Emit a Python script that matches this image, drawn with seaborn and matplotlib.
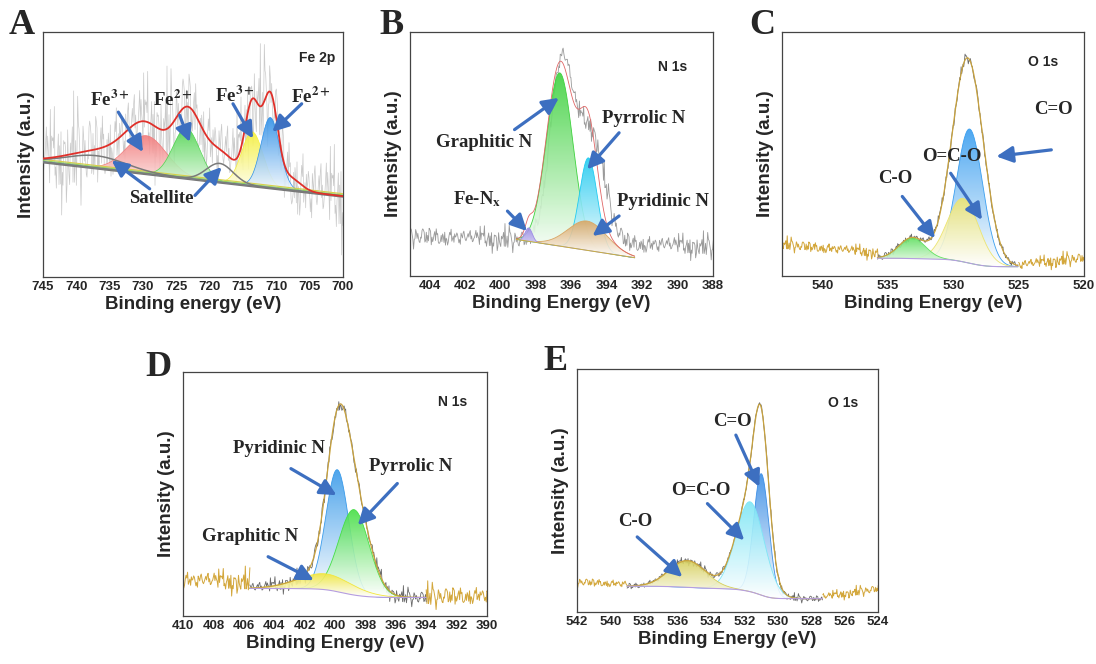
# XPS high-resolution spectra: Fe 2p, N 1s, O 1s
import numpy as np
import matplotlib
matplotlib.use("Agg")
import matplotlib.pyplot as plt
import seaborn as sns
from matplotlib.colors import to_rgb
from matplotlib.ticker import AutoMinorLocator

# hand-typed noise texture for the measured traces
jitter = [
    0.31, -0.72, 0.55, -0.18, 0.92, -0.44, 0.07, -0.95, 0.63, -0.27,
    0.41, -0.81, 0.12, 0.77, -0.59, 0.24, -0.36, 1.65, -0.13, 0.49,
    -0.67, 0.03, 0.71, -0.52, 0.19, -0.88, 0.38, -0.05, 0.84, -0.31,
    0.58, -0.76, 0.15, -1.72, 0.96, -0.21, 0.33, -0.64, 0.08, 0.69,
    -0.93, 0.27, -0.11, 0.53, -0.48, 0.81, -0.35, 0.02, -0.79, 0.46,
    0.17, -0.57, 1.48, -0.24, 0.36, -0.86, 0.61, -0.09, 0.29, -0.69,
    0.91, -0.38, 0.13, -0.53, 0.67, -0.16, 0.44, -0.97, 0.22, 0.79,
    -0.47, 0.05, -1.55, 0.57, -0.29, 0.86, -0.62, 0.34, -0.07, 0.51,
    -0.83, 0.18, 0.64, -0.41, 0.26, -0.91, 0.72, -0.23, 0.39, -0.61,
    0.09, 1.83, -0.55, 0.21, -0.33, 0.94, -0.15, 0.47, -0.78, 0.11,
    -0.26, 0.62, -0.84, 0.35, -0.02, 0.75, -0.46, 0.16, -0.68, 0.52,
    -1.38, 0.28, 0.87, -0.37, 0.06, -0.73, 0.43, -0.19, 0.66, -0.51,
    0.23, -0.89, 0.59, -0.12, 0.37, -0.65, 1.41, -0.28, 0.14, -0.82,
    0.48, -0.04, 0.73, -0.45, 0.25, -0.94, 0.56, -0.17, 0.32, -0.58,
]

# ---------------- A : Fe 2p ----------------
fe_lim = (745, 700)
fe_ticks = [745, 740, 735, 730, 725, 720, 715, 710, 705, 700]
fe_bg = [47.0, 33.0]
fe_pk_center = [729.5, 723.5, 713.6, 710.9]
fe_pk_height = [15.5, 20.4, 22.0, 28.7]
fe_pk_width = [3.0, 2.0, 1.6, 1.4]
fe_pk_color = ["#f27c7c", "#4fd44f", "#f5ef3a", "#2e8fe8"]
fe_sat_center = [737.0, 718.5]
fe_sat_height = [5.0, 7.6]
fe_sat_width = [4.5, 2.0]
fe_fit_center = [736.0, 729.5, 723.3, 718.5, 713.6, 710.9, 708.0]
fe_fit_height = [7.0, 18.0, 25.0, 12.0, 32.0, 36.5, 5.0]
fe_fit_width = [5.0, 3.0, 2.0, 2.5, 1.1, 1.1, 1.6]
fe_lab_text = ["Fe$^{\\mathbf{3+}}$", "Fe$^{\\mathbf{2+}}$", "Fe$^{\\mathbf{3+}}$",
               "Fe$^{\\mathbf{2+}}$", "Satellite"]
fe_lab_x = [735.0, 725.5, 716.3, 704.8, 727.3]
fe_lab_y = [72.5, 72.5, 74.0, 73.5, 32.0]
fe_arrows = [(733.7, 67.3, 730.0, 51.0), (724.5, 66.0, 723.0, 55.1),
             (716.5, 70.7, 713.5, 56.5), (706.2, 70.7, 710.6, 59.2),
             (729.0, 36.0, 734.7, 47.6), (722.2, 33.3, 718.2, 44.9)]

# ---------------- B : N 1s ----------------
nb_lim = (405.1, 388)
nb_ticks = [404, 402, 400, 398, 396, 394, 392, 390, 388]
nb_fit = (399.1, 392.4)
nb_bg = [15.0, 7.5]
nb_pk_center = [396.65, 395.03, 395.1, 398.4]
nb_pk_height = [71.0, 38.0, 12.0, 5.5]
nb_pk_width = [0.75, 0.5, 1.1, 0.2]
nb_pk_color = ["#3fd23f", "#22cbf0", "#d9a765", "#9d8ce6"]
nb_raw_level = [16.5, 12.0]
nb_raw_center = [396.55, 394.9]
nb_raw_height = [72.0, 45.0]
nb_raw_width = [0.65, 0.75]
nb_lab_text = ["Graphitic N", "Pyrrolic N", "Pyridinic N", "Fe-N$_\\mathbf{x}$"]
nb_lab_x = [400.9, 391.9, 390.8, 401.3]
nb_lab_y = [54.6, 64.4, 30.4, 31.7]
nb_arrows = [(399.2, 60.0, 396.7, 73.0), (393.3, 58.7, 395.1, 43.7),
             (393.3, 24.6, 394.8, 16.4), (399.6, 26.6, 398.5, 18.4)]

# ---------------- C : O 1s ----------------
oc_lim = (543.1, 520)
oc_ticks = [540, 535, 530, 525, 520]
oc_fit = (535.8, 525.0)
oc_bg = [7.3, 3.8]
oc_pk_center = [528.75, 529.25, 533.15]
oc_pk_height = [55.0, 26.0, 8.5]
oc_pk_width = [1.0, 1.2, 1.0]
oc_pk_color = ["#3b9ff0", "#ece472", "#62e062"]
oc_env_center = [528.9, 533.15]
oc_env_height = [84.0, 8.5]
oc_env_width = [1.2, 1.0]
oc_gold_left = [13.0, 9.5]
oc_gold_right = [4.5, 7.5]
oc_lab_text = ["C=O", "O=C-O", "C-O"]
oc_lab_x = [522.3, 530.1, 534.4]
oc_lab_y = [68.1, 49.0, 40.1]
oc_arrows = [(522.5, 51.7, 526.7, 49.0), (530.2, 42.1, 527.8, 23.0),
             (533.9, 32.6, 531.4, 15.5)]

# ---------------- D : N 1s ----------------
nd_lim = (410, 390)
nd_ticks = [410, 408, 406, 404, 402, 400, 398, 396, 394, 392, 390]
nd_fit = (405.6, 394.0)
nd_bg = [11.3, 7.6]
nd_pk_center = [399.85, 398.75, 400.6]
nd_pk_height = [50.0, 35.0, 6.5]
nd_pk_width = [0.75, 1.0, 1.8]
nd_pk_color = ["#3a9bea", "#45de45", "#f2e63a"]
nd_gold_left = [14.7, 14.0]
nd_gold_right = [8.0, 8.5]
nd_lab_text = ["Pyridinic N", "Pyrrolic N", "Graphitic N"]
nd_lab_x = [403.7, 395.0, 405.6]
nd_lab_y = [68.6, 61.1, 32.5]
nd_arrows = [(402.9, 60.4, 399.9, 49.5), (395.9, 54.3, 398.5, 37.2),
             (404.4, 24.3, 401.4, 14.7)]

# ---------------- E : O 1s ----------------
oe_lim = (542, 524)
oe_ticks = [542, 540, 538, 536, 534, 532, 530, 528, 526, 524]
oe_fit = (539.0, 527.3)
oe_bg = [10.6, 5.5]
oe_pk_center = [530.98, 531.65, 535.4]
oe_pk_height = [50.0, 37.0, 11.0]
oe_pk_width = [0.45, 0.85, 1.1]
oe_pk_color = ["#3d8fe6", "#7fe6f6", "#d6cf5a"]
oe_gold_left = [12.4, 11.5]
oe_gold_right = [6.2, 9.6]
oe_lab_text = ["C=O", "O=C-O", "C-O"]
oe_lab_x = [532.7, 534.6, 538.5]
oe_lab_y = [78.3, 50.1, 37.1]
oe_arrows = [(532.5, 72.8, 531.1, 51.5), (534.2, 44.6, 532.0, 29.5),
             (538.4, 30.9, 535.7, 14.4)]

ARROW = "#3d6fc0"
GOLD = "#d3a73c"
PURPLE = "#b59de0"
ENV = "#c8a23e"


def jit(n, start):
    return np.array([jitter[(start + i * 11) % len(jitter)] for i in range(n)])


def gauss(x, c, h, w):
    return h * np.exp(-(x - c) ** 2 / (2 * w ** 2))


def peaks(x, cs, hs, ws):
    return [gauss(x, c, h, w) for c, h, w in zip(cs, hs, ws)]


def shirley(x, total, left, right):
    cum = np.cumsum(total[::-1])[::-1]
    return right + (left - right) * cum / cum[0]


def line(ax, x, y, color, lw, z=4):
    sns.lineplot(x=x, y=y, ax=ax, color=color, lw=lw, zorder=z,
                 estimator=None, sort=False, legend=False)


def grad_fill(ax, x, lo, hi, color, z=3):
    poly = ax.fill_between(x, lo, hi, facecolor="none", edgecolor="none")
    img = np.ones((80, 1, 4))
    t = np.linspace(0, 1, 80)[:, None]
    img[:, 0, :3] = (1 - t) * np.array(to_rgb(color)) + t * np.ones(3)
    img[:, 0, 3] = 0.9
    im = ax.imshow(img, extent=(x.min(), x.max(), lo.min(), hi.max()),
                   origin="upper", aspect="auto", zorder=z,
                   interpolation="bilinear")
    im.set_clip_path(poly.get_paths()[0], transform=ax.transData)


def style(ax, lim, ticks, xlabel, tag, tag_pos, corner, corner_pos):
    ax.set_xlim(lim)
    ax.set_ylim(0, 100)
    ax.set_xticks(ticks)
    ax.xaxis.set_minor_locator(AutoMinorLocator(2))
    ax.set_yticks([])
    ax.tick_params(axis="x", which="major", direction="in", length=4,
                   width=0.8, labelsize=9.5, pad=3, color="#333333")
    ax.tick_params(axis="x", which="minor", direction="in", length=2,
                   width=0.8, color="#333333")
    plt.setp(ax.get_xticklabels(), fontweight="bold")
    ax.set_xlabel(xlabel, fontsize=13.5, fontweight="bold", labelpad=2)
    ax.set_ylabel("Intensity (a.u.)", fontsize=13.5, fontweight="bold",
                  labelpad=6)
    for s in ax.spines.values():
        s.set_visible(True)
        s.set_color("#444444")
        s.set_linewidth(0.9)
    ax.text(corner_pos[0], corner_pos[1], corner, transform=ax.transAxes,
            ha="center", va="center", fontsize=10, fontweight="bold")
    ax.figure.text(tag_pos[0] / 1096, 1 - tag_pos[1] / 664, tag,
                   family="Liberation Serif", fontweight="bold", fontsize=26,
                   ha="center", va="center")


def annotate(ax, texts, xs, ys, arrows):
    for t, x, y in zip(texts, xs, ys):
        ax.text(x, y, t, ha="center", va="center", family="Liberation Serif",
                fontweight="bold", fontsize=13.5, zorder=8)
    for x0, y0, x1, y1 in arrows:
        ax.annotate("", xy=(x1, y1), xytext=(x0, y0), zorder=7,
                    arrowprops=dict(arrowstyle="-|>,head_length=0.7,head_width=0.35",
                                    lw=2.3, color=ARROW, shrinkA=0, shrinkB=0,
                                    mutation_scale=14))


def fitted_panel(ax, lim, fit, bg, pk_c, pk_h, pk_w, pk_col, gold_l, gold_r,
                 amp_gold, amp_raw, step, seed, env_c=None, env_h=None, env_w=None):
    x = np.arange(fit[0], fit[1], -step)
    comps = peaks(x, pk_c, pk_h, pk_w)
    base = shirley(x, np.sum(comps, axis=0), bg[0], bg[1])
    parts = peaks(x, env_c, env_h, env_w) if env_c else comps
    env = base + np.sum(parts, axis=0)
    xl = np.arange(lim[0], fit[0] - step, -step)
    xr = np.arange(fit[1], lim[1] - step, -step)
    line(ax, xl, np.linspace(gold_l[0], gold_l[1], len(xl)) + amp_gold * jit(len(xl), seed), GOLD, 0.7, 2)
    line(ax, xr, np.linspace(gold_r[0], gold_r[1], len(xr)) + amp_gold * jit(len(xr), seed + 40), GOLD, 0.7, 2)
    line(ax, x, env + amp_raw * jit(len(x), seed + 80), "#6a6a6a", 0.6, 2)
    for i, (comp, col) in enumerate(zip(comps, pk_col)):
        grad_fill(ax, x, base, base + comp, col, z=3 + 0.1 * i)
        line(ax, x, base + comp, col, 0.6, 3.05 + 0.1 * i)
    line(ax, x, env, ENV, 0.9, 5)
    line(ax, x, base, PURPLE, 0.8, 5)


sns.set_theme(style="white")
plt.rcParams["font.family"] = ["Liberation Sans", "DejaVu Sans"]
plt.rcParams["mathtext.fontset"] = "stix"

fig = plt.figure(figsize=(10.96, 6.64), dpi=100)


def box(l, t, r, b):
    return fig.add_axes([l / 1096, 1 - b / 664, (r - l) / 1096, (b - t) / 664])


# ---- A ----
ax = box(43, 32, 343, 277)
xa = np.arange(745, 699.95, -0.1)
base_a = np.linspace(fe_bg[0], fe_bg[1], len(xa))
env_a = base_a + np.sum(peaks(xa, fe_fit_center, fe_fit_height, fe_fit_width), axis=0)
line(ax, xa, env_a + 14 * jit(len(xa), 5), "#cacaca", 0.5, 2)
for i, (comp, col) in enumerate(zip(peaks(xa, fe_pk_center, fe_pk_height, fe_pk_width), fe_pk_color)):
    grad_fill(ax, xa, base_a, base_a + comp, col, z=3 + 0.1 * i)
    line(ax, xa, base_a + comp, col, 0.5, 3.05 + 0.1 * i)
for off, col in zip([1.0, 0.5, 0.0], ["#d9cf4a", "#8fcf60", "#4a90d0"]):
    line(ax, xa, base_a + off, col, 0.8, 4)
line(ax, xa, base_a - 0.4, "#777777", 0.9, 4)
for comp in peaks(xa, fe_sat_center, fe_sat_height, fe_sat_width):
    line(ax, xa, base_a + comp, "#7a7a7a", 1.1, 4.5)
line(ax, xa, env_a, "#e0302a", 1.3, 5)
annotate(ax, fe_lab_text, fe_lab_x, fe_lab_y, fe_arrows)
style(ax, fe_lim, fe_ticks, "Binding energy (eV)", "A", (22, 26), "Fe 2p", (0.913, 0.894))

# ---- B ----
ax = box(410, 32, 713, 276)
xb = np.arange(nb_lim[0], nb_lim[1] - 0.04, -0.04)
raw_b = (np.linspace(nb_raw_level[0], nb_raw_level[1], len(xb))
         + np.sum(peaks(xb, nb_raw_center, nb_raw_height, nb_raw_width), axis=0)
         + 3.5 * jit(len(xb), 17))
line(ax, xb, raw_b, "#9a9a9a", 0.6, 2)
xf = np.arange(nb_fit[0], nb_fit[1], -0.04)
base_b = np.linspace(nb_bg[0], nb_bg[1], len(xf))
comps_b = peaks(xf, nb_pk_center, nb_pk_height, nb_pk_width)
for i, (comp, col) in enumerate(zip(comps_b, nb_pk_color)):
    grad_fill(ax, xf, base_b, base_b + comp, col, z=3 + 0.1 * i)
    line(ax, xf, base_b + comp, col, 0.6, 3.05 + 0.1 * i)
line(ax, xf, base_b + np.sum(comps_b, axis=0), "#e06666", 0.6, 5)
line(ax, xf, base_b, "#c9b040", 0.7, 5)
annotate(ax, nb_lab_text, nb_lab_x, nb_lab_y, nb_arrows)
style(ax, nb_lim, nb_ticks, "Binding Energy (eV)", "B", (391, 25), "N 1s", (0.868, 0.857))

# ---- C ----
ax = box(782, 32, 1084, 276)
fitted_panel(ax, oc_lim, oc_fit, oc_bg, oc_pk_center, oc_pk_height, oc_pk_width,
             oc_pk_color, oc_gold_left, oc_gold_right, 2.0, 1.5, 0.05, 3,
             oc_env_center, oc_env_height, oc_env_width)
annotate(ax, oc_lab_text, oc_lab_x, oc_lab_y, oc_arrows)
style(ax, oc_lim, oc_ticks, "Binding Energy (eV)", "C", (762, 25), "O 1s", (0.864, 0.877))

# ---- D ----
ax = box(183, 372, 487, 616)
fitted_panel(ax, nd_lim, nd_fit, nd_bg, nd_pk_center, nd_pk_height, nd_pk_width,
             nd_pk_color, nd_gold_left, nd_gold_right, 3.5, 2.5, 0.05, 29)
annotate(ax, nd_lab_text, nd_lab_x, nd_lab_y, nd_arrows)
style(ax, nd_lim, nd_ticks, "Binding Energy (eV)", "D", (158, 367), "N 1s", (0.888, 0.877))

# ---- E ----
ax = box(577, 369, 878, 612)
fitted_panel(ax, oe_lim, oe_fit, oe_bg, oe_pk_center, oe_pk_height, oe_pk_width,
             oe_pk_color, oe_gold_left, oe_gold_right, 1.5, 1.2, 0.04, 61)
annotate(ax, oe_lab_text, oe_lab_x, oe_lab_y, oe_arrows)
style(ax, oe_lim, oe_ticks, "Binding Energy (eV)", "E", (556, 361), "O 1s", (0.884, 0.86))

fig.savefig("out.png", dpi=100)
